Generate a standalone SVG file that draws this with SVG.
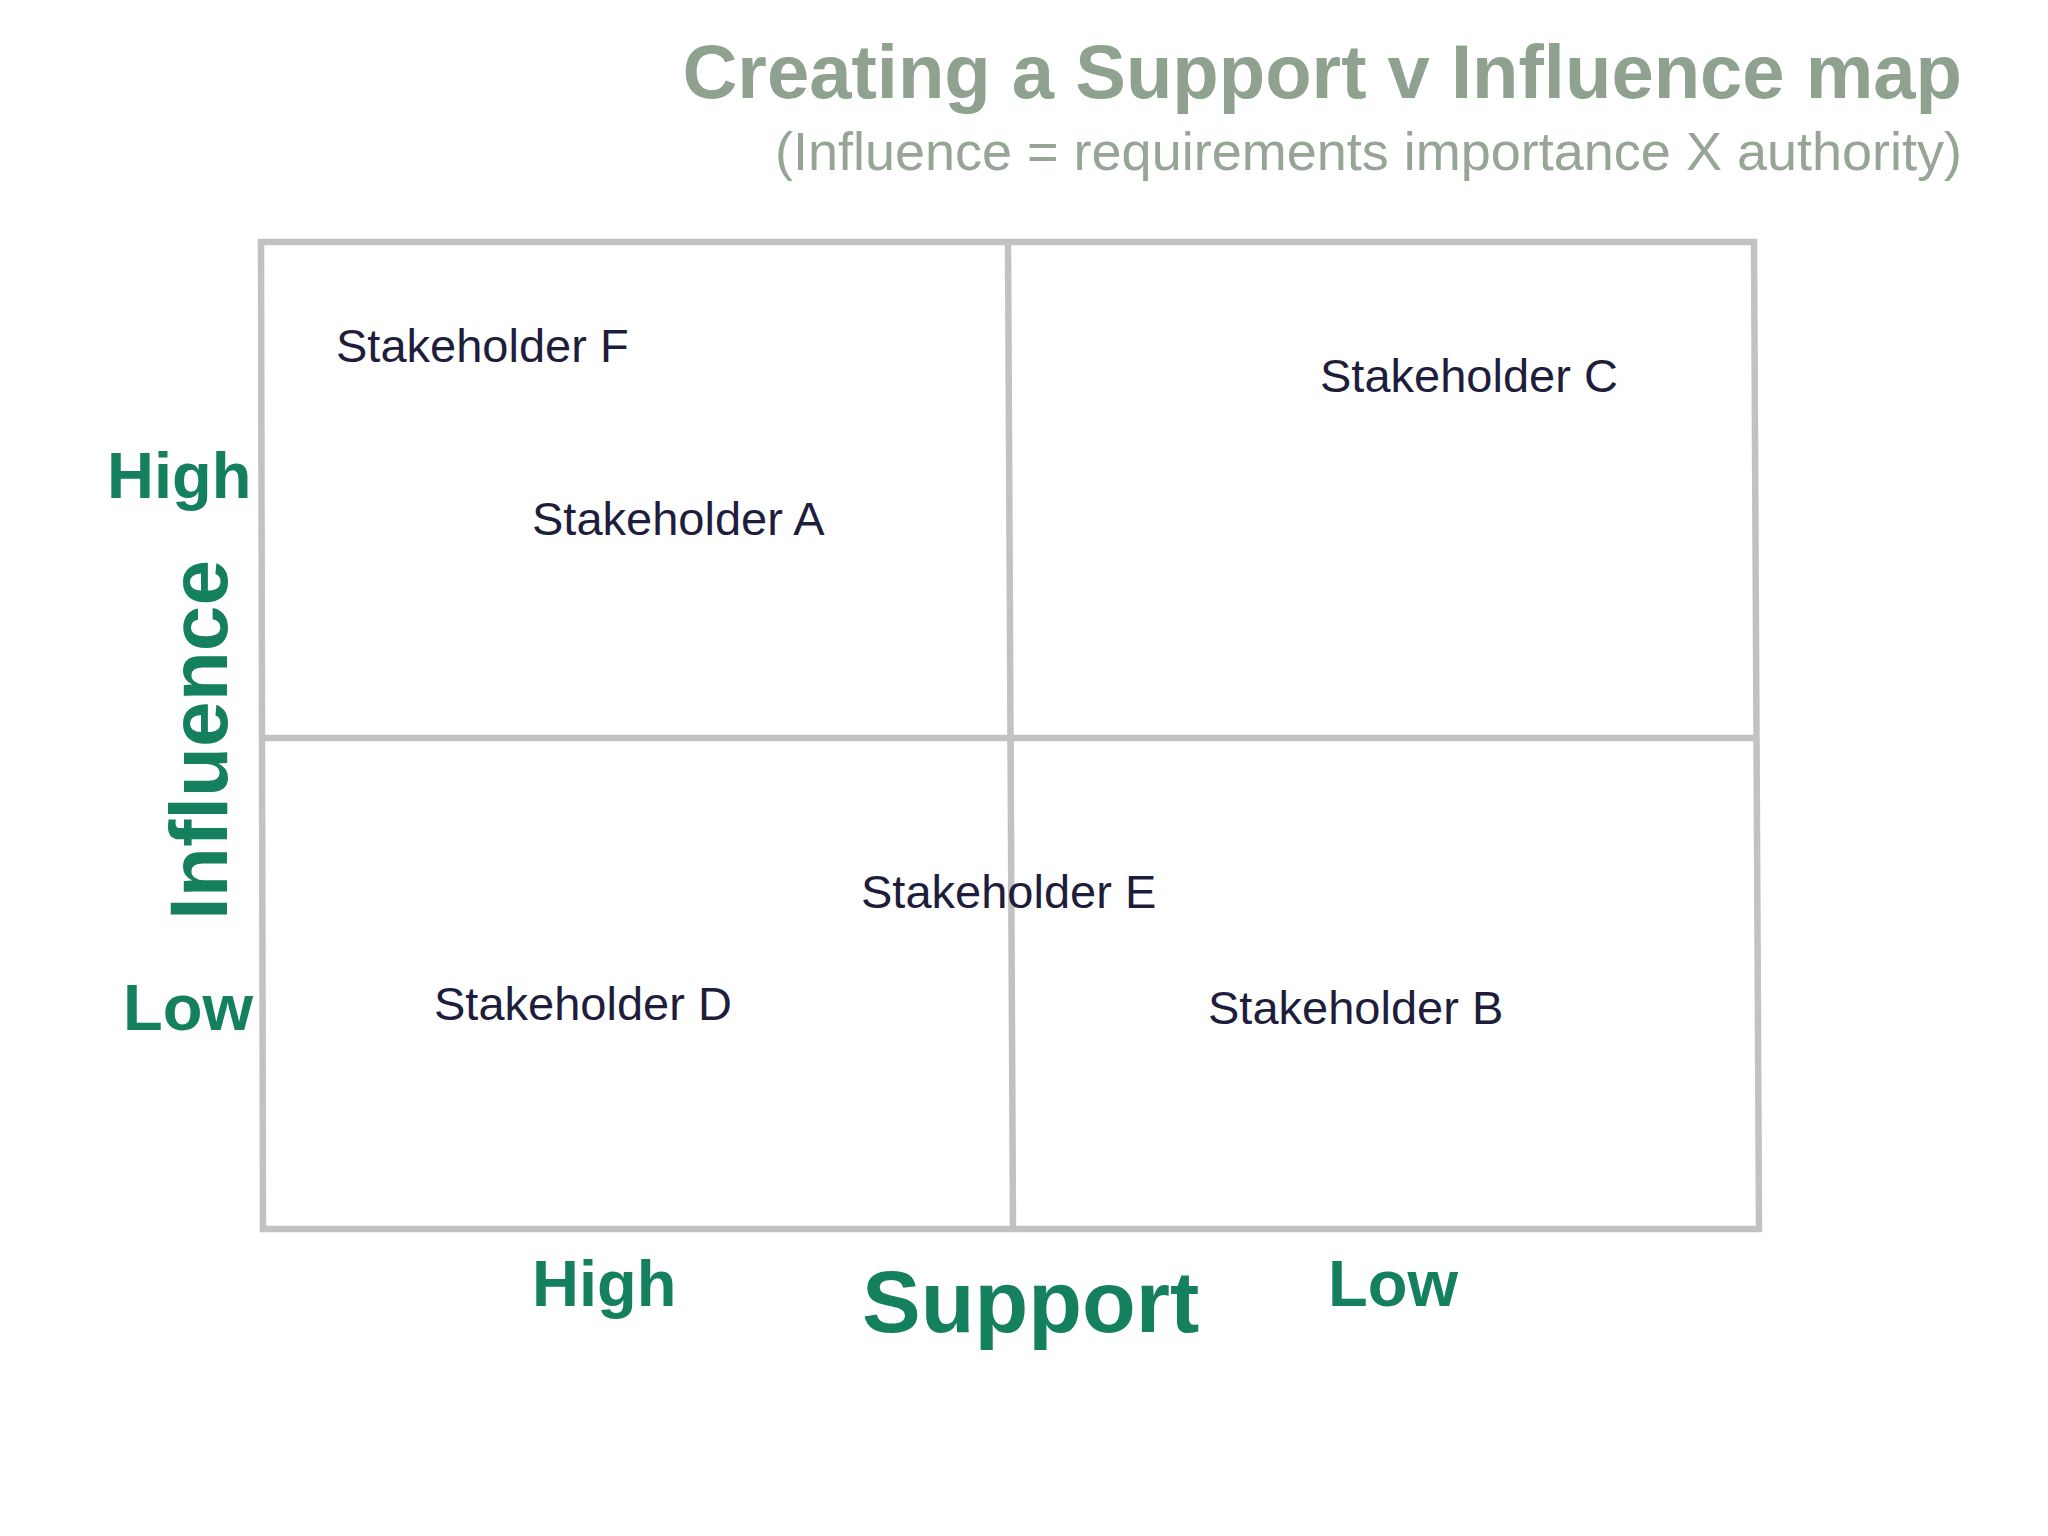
<svg xmlns="http://www.w3.org/2000/svg" width="2048" height="1536" viewBox="0 0 2048 1536">
<style>
.t{font-family:"Liberation Sans",Arial,sans-serif}
.s{font-size:47px;fill:#1e1e3c}
.g{font-weight:bold;fill:#14805e}
.ln{stroke:#c2c2c4;stroke-width:6.5;fill:none}
</style>
<rect width="2048" height="1536" fill="#fff"/>
<g id="title">
<text class="t" x="1962" y="98" text-anchor="end" font-size="76" font-weight="bold" fill="#8fa18f">Creating a Support v Influence map</text>
<text class="t" x="1962" y="170" text-anchor="end" font-size="54" fill="#97a597">(Influence = requirements importance X authority)</text>
</g>
<g id="connectors">
<path class="ln" d="M261 242 L1754 242 L1759 1229 L263 1229 Z"/>
<path class="ln" d="M1008 242 L1013 1229"/>
<path class="ln" d="M263 738 L1756 738"/>
</g>
<g id="stakeholderF"><text class="t s" x="336" y="362">Stakeholder F</text></g>
<g id="stakeholderC"><text class="t s" x="1320" y="392">Stakeholder C</text></g>
<g id="stakeholderA"><text class="t s" x="532" y="535">Stakeholder A</text></g>
<g id="stakeholderE"><text class="t s" x="861" y="908">Stakeholder E</text></g>
<g id="stakeholderD"><text class="t s" x="434" y="1020">Stakeholder D</text></g>
<g id="stakeholderB"><text class="t s" x="1208" y="1024">Stakeholder B</text></g>
<g id="axes">
<text class="t g" x="107" y="498" font-size="65">High</text>
<text class="t g" x="123" y="1030" font-size="65">Low</text>
<text class="t g" transform="translate(227,740) rotate(-90)" text-anchor="middle" font-size="82">Influence</text>
<text class="t g" x="532" y="1306" font-size="65">High</text>
<text class="t g" x="862" y="1332" font-size="88">Support</text>
<text class="t g" x="1328" y="1306" font-size="65">Low</text>
</g>
</svg>
